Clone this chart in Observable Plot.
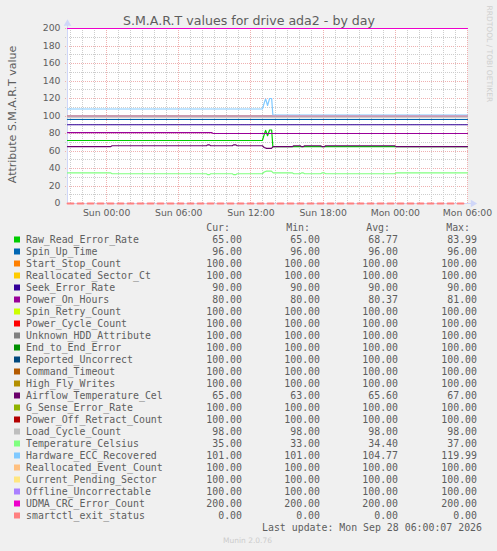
<!DOCTYPE html>
<html><head><meta charset="utf-8">
<script src="https://cdn.jsdelivr.net/npm/d3@7"></script>
<script src="https://cdn.jsdelivr.net/npm/@observablehq/plot@0.6"></script>
<style>
html,body{margin:0;padding:0;background:#f0f0f0;}
#wrap{width:497px;height:551px;overflow:hidden;background:#f0f0f0;}
#wrap svg{display:block;}
</style></head><body><div id="wrap"></div>
<script>
// ---------- data ----------
const chartTitle = "S.M.A.R.T values for drive ada2 - by day";
const yLabel = "Attribute S.M.A.R.T value";
const seriesNames = ["Raw_Read_Error_Rate","Spin_Up_Time","Start_Stop_Count","Reallocated_Sector_Ct","Seek_Error_Rate","Power_On_Hours","Spin_Retry_Count","Power_Cycle_Count","Unknown_HDD_Attribute","End_to_End_Error","Reported_Uncorrect","Command_Timeout","High_Fly_Writes","Airflow_Temperature_Cel","G_Sense_Error_Rate","Power_Off_Retract_Count","Load_Cycle_Count","Temperature_Celsius","Hardware_ECC_Recovered","Reallocated_Event_Count","Current_Pending_Sector","Offline_Uncorrectable","UDMA_CRC_Error_Count","smartctl_exit_status"];
const seriesColors = ["#00CC00","#0066B3","#FF8000","#FFCC00","#330099","#990099","#CCFF00","#FF0000","#808080","#008F00","#00487D","#B35A00","#B38F00","#6B006B","#8FB300","#B30000","#BEBEBE","#80FF80","#80C9FF","#FFC080","#FFE680","#AA80FF","#EE00CC","#FF8080"];
const curValues = [65,96,100,100,90,80,100,100,100,100,100,100,100,65,100,100,98,35,101,100,100,100,200,0];
const minValues = [65,96,100,100,90,80,100,100,100,100,100,100,100,63,100,100,98,33,101,100,100,100,200,0];
const avgValues = [68.77,96,100,100,90,80.37,100,100,100,100,100,100,100,65.60,100,100,98,34.40,104.77,100,100,100,200,0];
const maxValues = [83.99,96,100,100,90,81,100,100,100,100,100,100,100,67,100,100,98,37,119.99,100,100,100,200,0];
// constant series level (null = varying, see below)
const constLevels = [null,96,100,100,90,null,100,100,100,100,100,100,100,null,100,100,98,null,null,100,100,100,200,0];

// time: hours relative to Sun 27 Sep 2026 00:00
const windowStartHour = -3.25, windowEndHour = 30;
const xTickHours = [0, 6, 12, 18, 24, 30];
const yTicks = [0,20,40,60,80,100,120,140,160,180,200];

const rawReadHours  = [-3.25, 12.95, 13.15, 13.22, 13.38, 13.55, 13.72, 13.82, 30];
const rawReadValues = [72, 72, 81, 83.5, 77.5, 84, 84, 65, 65];
const eccHours  = [-3.25, 12.95, 13.15, 13.22, 13.38, 13.55, 13.72, 13.82, 30];
const eccValues = [108, 108, 117, 119.5, 112, 120, 120, 101, 101];
const powerOnHours  = [-3.25, 8.75, 8.85, 30];
const powerOnValues = [81, 81, 80, 80];
const tempHours = [-3.25,0.35,0.45,8.3,8.4,8.55,8.65,10.45,10.55,10.75,10.85,12.95,13.1,13.3,13.7,13.85,15.45,15.55,16.1,16.2,16.35,16.45,17.8,17.9,18.1,18.2,23.95,24.05,30];
const airflowValues     = [65,65,66,66,67,67,66,66,67,67,66,66,64,63,63,65,65,66,66,65,65,66,66,65,65,66,66,65,65];
const temperatureValues = [35,35,34,34,33,33,34,34,33,33,34,34,36,37,37,35,35,34,34,35,35,34,34,35,35,34,34,35,35];

const lastUpdate = "Last update: Mon Sep 28 06:00:07 2026";
const footer = "Munin 2.0.76";
const watermark = "RRDTOOL / TOBI OETIKER";

// ---------- build ----------
const base = Date.UTC(2026, 8, 27, 0, 0, 0);
const hDate = h => new Date(base + h * 3600e3);
const varying = {
  0: [rawReadHours, rawReadValues],
  5: [powerOnHours, powerOnValues],
  13: [tempHours, airflowValues],
  17: [tempHours, temperatureValues],
  18: [eccHours, eccValues]
};
const seriesPoints = seriesNames.map((n, i) => {
  if (varying[i]) { const [hs, vs] = varying[i]; return hs.map((h, k) => ({t: hDate(h), v: vs[k]})); }
  return [{t: hDate(windowStartHour), v: constLevels[i]}, {t: hDate(windowEndHour), v: constLevels[i]}];
});

const yMajor = yTicks.filter(v => v > 0);
const yMinor = d3.range(10, 200, 20);
const xMajor = xTickHours.map(hDate);
const xMinor = d3.range(-3, 30, 1).filter(h => h % 6 !== 0).map(hDate);
const gx1 = hDate(windowStartHour - 0.2), gx2 = hDate(windowEndHour + 0.1);

const fontColor = "#5e5e5e";
const minorGrid = "#cdcdcd", majorGrid = "#efb0b0";
const lineMarks = seriesPoints.map((pts, i) => Plot.line(pts, {
  x: "t", y: "v", stroke: seriesColors[i], strokeWidth: i === 23 ? 1.8 : 1.2,
  strokeDasharray: i === 23 ? "6,4" : null
}));

const chart = Plot.plot({
  width: 497, height: 220,
  marginLeft: 67, marginRight: 30, marginTop: 28, marginBottom: 17,
  style: {background: "transparent", fontFamily: "DejaVu Sans", fontSize: "9.3px", color: fontColor, overflow: "visible"},
  x: {type: "utc", domain: [hDate(windowStartHour), hDate(windowEndHour)]},
  y: {domain: [0, 200]},
  marks: [
    Plot.frame({fill: "#ffffff", stroke: null}),
    Plot.ruleY(yMinor, {x1: gx1, x2: gx2, stroke: minorGrid, strokeDasharray: "1,1", shapeRendering: "crispEdges"}),
    Plot.ruleY(yMajor, {x1: gx1, x2: gx2, stroke: majorGrid, strokeDasharray: "1,1", shapeRendering: "crispEdges"}),
    Plot.ruleX(xMinor, {y1: 0, y2: 200, stroke: minorGrid, strokeDasharray: "1,1", shapeRendering: "crispEdges"}),
    Plot.ruleX(xMajor, {y1: 0, y2: 200, stroke: majorGrid, strokeDasharray: "1,1", shapeRendering: "crispEdges"}),
    Plot.axisY({ticks: yTicks, tickSize: 0, tickPadding: 7, label: null, fill: fontColor}),
    Plot.axisX({ticks: xMajor, tickFormat: d3.utcFormat("%a %H:%M"), tickSize: 0, tickPadding: 6, label: null, fill: fontColor}),
    Plot.ruleX([hDate(windowStartHour)], {y1: 0, y2: 204, stroke: "#CFD6F8", shapeRendering: "crispEdges"}),
    Plot.ruleY([0], {x1: hDate(windowStartHour), x2: hDate(windowEndHour + 0.35), stroke: "#CFD6F8", shapeRendering: "crispEdges"}),
    Plot.dot([0], {x: hDate(windowStartHour), y: 205.5, symbol: "triangle", r: 2.8, fill: "#CFD6F8", stroke: null}),
    Plot.dot([0], {x: hDate(windowEndHour + 0.45), y: 0, symbol: "triangle", rotate: 90, r: 2.8, fill: "#CFD6F8", stroke: null}),
    ...lineMarks,
    Plot.text([chartTitle], {frameAnchor: "top", dx: -18.5, dy: -4, lineAnchor: "bottom", fontSize: 12.6, fill: fontColor, fontFamily: "DejaVu Sans"}),
    Plot.text([yLabel], {frameAnchor: "left", rotate: -90, dx: -52, dy: -1.5, lineAnchor: "bottom", textAnchor: "middle", fontSize: 11, fill: fontColor, fontFamily: "DejaVu Sans"}),
    Plot.text([watermark], {frameAnchor: "top-right", rotate: 90, dx: 21.5, dy: -23, lineAnchor: "middle", textAnchor: "start", fontSize: 7.5, fill: "#cfcfcf", fontFamily: "DejaVu Sans"})
  ]
});
document.getElementById("wrap").appendChild(chart);

// ---------- legend (below the chart) ----------
const legH = 331, top0 = 220;
const leg = d3.select("#wrap").append("svg").attr("width", 497).attr("height", legH)
  .style("font-family", "'DejaVu Sans Mono', monospace").style("font-size", "9.9px");
const hdrY = 231 - top0;
[["Cur:", 230], ["Min:", 310], ["Avg:", 390], ["Max:", 470]].forEach(([t, x]) =>
  leg.append("text").attr("x", x).attr("y", hdrY).attr("text-anchor", "end").attr("fill", fontColor).text(t));
seriesNames.forEach((n, i) => {
  const by = 243 + 12 * i - top0;
  leg.append("rect").attr("x", 14).attr("y", by - 6.5).attr("width", 6).attr("height", 6).attr("fill", seriesColors[i]);
  leg.append("text").attr("x", 26).attr("y", by).attr("fill", fontColor).text(n);
  [[curValues, 242], [minValues, 320], [avgValues, 398], [maxValues, 477]].forEach(([arr, x]) =>
    leg.append("text").attr("x", x).attr("y", by).attr("text-anchor", "end").attr("fill", fontColor).text(arr[i].toFixed(2)));
});
leg.append("text").attr("x", 482).attr("y", 531 - top0).attr("text-anchor", "end").attr("fill", fontColor).text(lastUpdate);
leg.append("text").attr("x", 247.5).attr("y", 543.3 - top0).attr("text-anchor", "middle").attr("fill", "#cccccc")
  .style("font-family", "'DejaVu Sans'").style("font-size", "7.5px").text(footer);
</script></body></html>
